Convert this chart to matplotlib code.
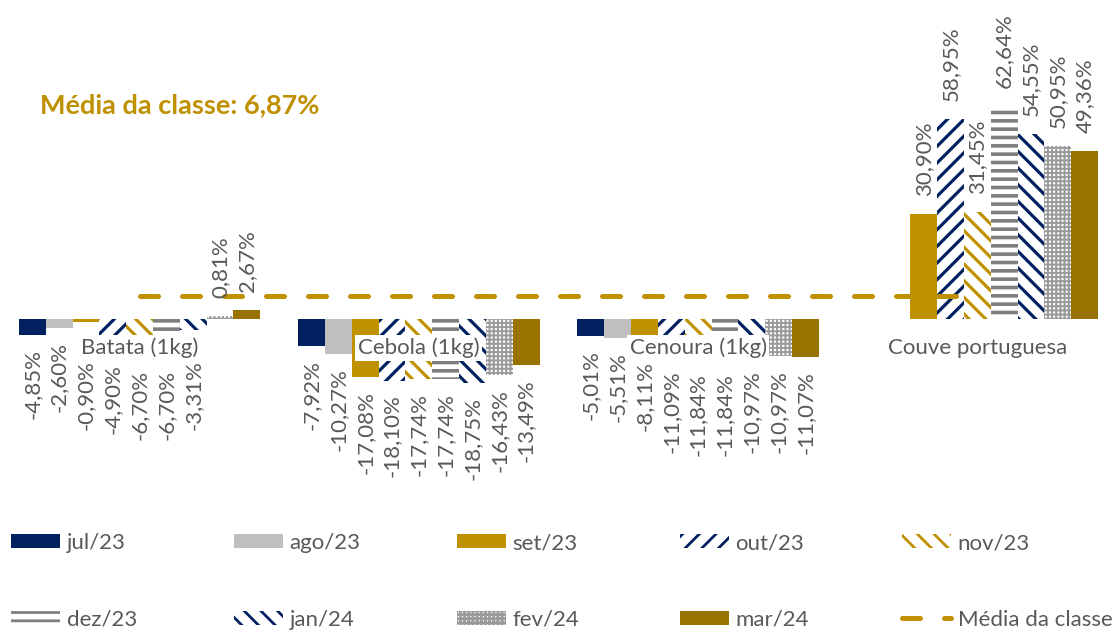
import numpy as np
import matplotlib
matplotlib.use("Agg")
import matplotlib.pyplot as plt
from matplotlib.patches import Patch
from matplotlib.lines import Line2D

plt.rcParams['font.family'] = ['Lato', 'DejaVu Sans']
plt.rcParams['hatch.linewidth'] = 2.0

# ---------------- dados ----------------
produtos = ["Batata (1kg)", "Cebola (1kg)", "Cenoura (1kg)", "Couve portuguesa"]
meses = ["jul/23", "ago/23", "set/23", "out/23", "nov/23",
         "dez/23", "jan/24", "fev/24", "mar/24"]

jul23 = [-4.85, -7.92, -5.01, np.nan]
ago23 = [-2.60, -10.27, -5.51, np.nan]
set23 = [-0.90, -17.08, -8.11, 30.90]
out23 = [-4.90, -18.10, -11.09, 58.95]
nov23 = [-6.70, -17.74, -11.84, 31.45]
dez23 = [-6.70, -17.74, -11.84, 62.64]
jan24 = [-3.31, -18.75, -10.97, 54.55]
fev24 = [0.81, -16.43, -10.97, 50.95]
mar24 = [2.67, -13.49, -11.07, 49.36]
media_classe = [6.87, 6.87, 6.87, 6.87]

series = [jul23, ago23, set23, out23, nov23, dez23, jan24, fev24, mar24]

# ---------------- estilos ----------------
NAVY = "#002060"
CINZA = "#BFBFBF"
OURO = "#BF9000"
OURO_ESC = "#997300"
CINZA_ESC = "#7F7F7F"
TXT = "#595959"
FS = 16

estilos = [
    dict(facecolor=NAVY, hatch=None, edge=NAVY),
    dict(facecolor=CINZA, hatch=None, edge=CINZA),
    dict(facecolor=OURO, hatch=None, edge=OURO),
    dict(facecolor="white", hatch="//", edge=NAVY),
    dict(facecolor="white", hatch="\\\\", edge=OURO),
    dict(facecolor="white", hatch="--", edge=CINZA_ESC),
    dict(facecolor="white", hatch="\\\\", edge=NAVY),
    dict(facecolor="white", hatch="++++", edge="#9A9A9A"),
    dict(facecolor=OURO_ESC, hatch=None, edge=OURO_ESC),
]
hatch_lw = [2.0, 2.0, 2.0, 2.3, 2.3, 2.6, 2.3, 1.4, 2.0]

W, H = 1117, 633
PX = 3.4  # pixels por ponto percentual
fig = plt.figure(figsize=(W / 100, H / 100), dpi=100)
ylo, yhi = -40, 65
zero_px = 319
ax = fig.add_axes([0, (H - (zero_px - ylo * PX)) / H, 1, (yhi - ylo) * PX / H])
ax.set_xlim(-0.5, 3.5)
ax.set_ylim(ylo, yhi)
ax.axis('off')

x = np.arange(len(produtos))
largura = 0.096
label_y = -8.5          # centro do rótulo de categoria
caixa_baixo = -12.06     # base da caixa branca do rótulo
gap_neg = 14 / PX
gap_pos = 18 / PX

for j, (vals, st) in enumerate(zip(series, estilos)):
    xs = x + (j - 4) * largura
    bars = ax.bar(xs, vals, largura, color=st['facecolor'], hatch=st['hatch'],
                  edgecolor=st['edge'], linewidth=0, zorder=2)
    for b in bars:
        if hasattr(b, 'set_hatch_linewidth'):
            b.set_hatch_linewidth(hatch_lw[j])
    for i, (xx, v) in enumerate(zip(xs, vals)):
        if np.isnan(v):
            continue
        txt = f"{v:.2f}%".replace('.', ',')
        if v >= 0:
            ax.text(xx, v + gap_pos, txt, rotation=90, ha='center', va='bottom',
                    fontsize=FS, color=TXT, zorder=6)
        else:
            topo = v - gap_neg
            if topo > caixa_baixo and abs(xx - x[i]) < 0.22:
                topo = min(topo - gap_neg, caixa_baixo)
            ax.text(xx, topo, txt, rotation=90, ha='center', va='top',
                    fontsize=FS, color=TXT, zorder=6)

ax.plot(x, media_classe, color=OURO, lw=3.6, dashes=(3.6, 4.8),
        dash_capstyle='round', zorder=3)

for i, nome in enumerate(produtos):
    ax.text(x[i], label_y, nome, ha='center', va='center', fontsize=FS,
            color=TXT, zorder=5,
            bbox=dict(facecolor='white', edgecolor='none', pad=2))

fig.text(40 / W, 1 - 105 / H, "Média da classe: 6,87%", fontsize=19.5,
         fontweight='bold', color=OURO, ha='left', va='center')

# ---------------- legenda ----------------
handles = []
for st in estilos:
    handles.append(Patch(facecolor=st['facecolor'], hatch=st['hatch'],
                         edgecolor=st['edge'], linewidth=0))
for h, lw in zip(handles, hatch_lw):
    if hasattr(h, 'set_hatch_linewidth'):
        h.set_hatch_linewidth(lw)
handles.append(Line2D([0], [0], color=OURO, lw=3.6, dashes=(3.6, 4.8),
                      dash_capstyle='round'))
labels = meses + ["Média da classe"]

col_x = [11, 234, 457, 680, 902]
for c in range(5):
    leg = fig.legend([handles[c], handles[c + 5]], [labels[c], labels[c + 5]],
                     loc='upper left', bbox_to_anchor=(col_x[c] / W, 1 - 533 / H),
                     frameon=False, fontsize=FS, handlelength=2.2,
                     handleheight=0.6, handletextpad=0.3, labelspacing=2.55,
                     borderpad=0, borderaxespad=0)
    for t in leg.get_texts():
        t.set_color(TXT)

fig.savefig("out.png", dpi=100)
